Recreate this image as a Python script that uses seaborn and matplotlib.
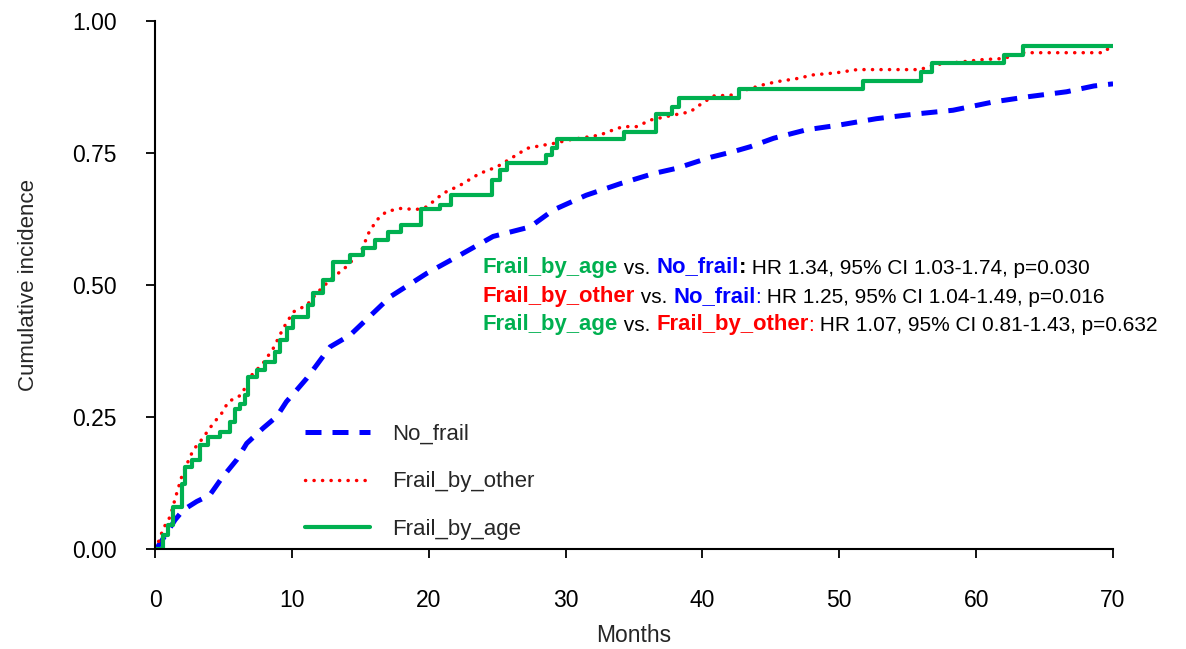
import numpy as np
import pandas as pd
import matplotlib
matplotlib.use("Agg")
import matplotlib.pyplot as plt
import seaborn as sns

# Cumulative incidence curves (months, incidence)
age_months = [0, 0.56, 0.97, 1.34, 1.95, 2.19, 2.68, 3.29, 3.9, 4.75, 5.48, 5.85, 6.2,
              6.58, 6.82, 7.43, 8.04, 8.77, 9.13, 9.62, 10.1, 11.2, 11.57, 12.3, 13.0,
              14.25, 15.2, 16.1, 17.0, 18.0, 19.4, 20.8, 21.6, 24.6, 25.2, 25.7, 28.6,
              29.0, 29.4, 34.3, 36.6, 37.8, 38.3, 42.7, 51.7, 56.0, 56.8, 62.0, 63.4, 70]
age_inc = [0, 0.027, 0.045, 0.08, 0.124, 0.156, 0.169, 0.197, 0.213, 0.222, 0.241, 0.266,
           0.275, 0.292, 0.326, 0.339, 0.355, 0.374, 0.396, 0.418, 0.44, 0.463, 0.484,
           0.51, 0.544, 0.557, 0.57, 0.585, 0.60, 0.614, 0.644, 0.651, 0.670, 0.699,
           0.718, 0.731, 0.746, 0.759, 0.776, 0.790, 0.823, 0.838, 0.855, 0.872, 0.886,
           0.904, 0.920, 0.936, 0.953, 0.953]

other_months = [0, 0.12, 0.61, 1.1, 1.58, 1.95, 2.3, 2.8, 3.29, 4.26, 4.87, 5.36, 6.33,
                6.94, 7.9, 8.64, 9.37, 10.1, 11.1, 11.8, 12.8, 14.0, 15.1, 15.6, 16.2,
                16.9, 17.9, 19.1, 19.85, 21.07, 22.3, 23.7, 25.0, 26.2, 27.2, 28.4, 29.1,
                30.3, 32.5, 33.5, 34.2, 35.2, 36.2, 37.9, 39.1, 39.8, 40.8, 42.3, 42.7,
                44.4, 45.4, 46.9, 48.1, 49.8, 51.3, 55.9, 56.9, 60.5, 62.0, 63.4, 69.3,
                69.8, 70]
other_inc = [0, 0.004, 0.039, 0.061, 0.105, 0.137, 0.159, 0.188, 0.203, 0.238, 0.257,
             0.279, 0.292, 0.326, 0.352, 0.380, 0.418, 0.449, 0.462, 0.484, 0.51, 0.535,
             0.566, 0.598, 0.623, 0.639, 0.645, 0.643, 0.648, 0.674, 0.689, 0.711, 0.724,
             0.743, 0.759, 0.765, 0.768, 0.775, 0.784, 0.794, 0.80, 0.80, 0.8125, 0.822,
             0.828, 0.841, 0.858, 0.860, 0.866, 0.879, 0.885, 0.891, 0.898, 0.902, 0.908,
             0.908, 0.917, 0.927, 0.929, 0.940, 0.940, 0.951, 0.951]

nofrail_months = [0, 0.12, 0.85, 1.46, 2.07, 3.05, 4.0, 4.87, 5.97, 6.7, 7.9, 8.9, 9.6,
                  10.35, 11.08, 11.8, 12.8, 14.25, 17.2, 19.85, 22.3, 24.7, 27.4, 29.1,
                  31.5, 34.0, 36.4, 38.1, 40.6, 42.3, 43.5, 45.2, 47.6, 50.0, 52.7, 55.6,
                  58.3, 61.3, 63.9, 66.6, 68.6, 70]
nofrail_inc = [0, 0.001, 0.03, 0.055, 0.074, 0.090, 0.102, 0.134, 0.169, 0.200, 0.229,
               0.251, 0.279, 0.301, 0.323, 0.348, 0.383, 0.405, 0.478, 0.522, 0.557, 0.592,
               0.610, 0.642, 0.670, 0.692, 0.711, 0.721, 0.742, 0.753, 0.762, 0.778, 0.794,
               0.803, 0.815, 0.824, 0.831, 0.847, 0.857, 0.866, 0.877, 0.881]

x_ticks = [0, 10, 20, 30, 40, 50, 60, 70]
y_ticks = [0, 0.25, 0.50, 0.75, 1.00]
y_tick_labels = ["0.00", "0.25", "0.50", "0.75", "1.00"]

GREEN = "#00B050"
RED = "#FF0000"
BLUE = "#0000FF"

# Hazard ratio text, one line per comparison: (text, colour, bold)
hr_lines = [
    [("Frail_by_age", GREEN, True), (" vs. ", "black", False), ("No_frail", BLUE, True),
     (":", "black", True), (" HR 1.34, 95% CI 1.03-1.74, p=0.030", "black", False)],
    [("Frail_by_other", RED, True), (" vs. ", "black", False), ("No_frail", BLUE, True),
     (":", BLUE, False), (" HR 1.25, 95% CI 1.04-1.49, p=0.016", "black", False)],
    [("Frail_by_age", GREEN, True), (" vs. ", "black", False), ("Frail_by_other", RED, True),
     (":", RED, False), (" HR 1.07, 95% CI 0.81-1.43, p=0.632", "black", False)],
]

sns.set_theme(style="ticks")
plt.rcParams["font.family"] = ["Liberation Sans", "DejaVu Sans"]

fig = plt.figure(figsize=(11.86, 6.49), dpi=100)
ax = fig.add_axes([0.1307, 0.1541, 0.8078, 0.8135])

df_no = pd.DataFrame({"month": nofrail_months, "inc": nofrail_inc})
df_other = pd.DataFrame({"month": other_months, "inc": other_inc})
df_age = pd.DataFrame({"month": age_months, "inc": age_inc})

sns.lineplot(data=df_no, x="month", y="inc", ax=ax, color=BLUE, lw=3.6,
             linestyle=(0, (3.2, 2.2)), estimator=None, label="No_frail")
sns.lineplot(data=df_other, x="month", y="inc", ax=ax, color=RED, lw=2.5,
             linestyle=(0, (0.05, 2.4)), dash_capstyle="round", estimator=None,
             label="Frail_by_other")
sns.lineplot(data=df_age, x="month", y="inc", ax=ax, color=GREEN, lw=3.0,
             drawstyle="steps-post", estimator=None, label="Frail_by_age")

ax.set_xlim(0, 70)
ax.set_ylim(0, 1)
ax.set_xticks(x_ticks)
ax.set_yticks(y_ticks)
ax.set_yticklabels(y_tick_labels)
ax.tick_params(axis="both", length=6.5, width=1.3, pad=21, labelsize=16.5, colors="black")
ax.tick_params(axis="x", pad=22)
for side in ["top", "right"]:
    ax.spines[side].set_visible(False)
for side in ["left", "bottom"]:
    ax.spines[side].set_linewidth(1.5)
    ax.spines[side].set_color("black")

ax.set_xlabel("Months", fontsize=16.5, labelpad=9)
ax.set_ylabel("Cumulative incidence", fontsize=16, labelpad=24)

ax.legend(loc="lower left", bbox_to_anchor=(0.157, 0.017), frameon=False, fontsize=16,
          handlelength=2.9, handletextpad=0.98, labelspacing=1.2, borderpad=0,
          borderaxespad=0)

line_y = [0.534, 0.479, 0.426]
for y, pieces in zip(line_y, hr_lines):
    prev = None
    for txt, col, bold in pieces:
        weight = "bold" if bold else "normal"
        size = 15.9 if bold else 15.0
        if prev is None:
            prev = ax.text(0.342, y, txt, transform=ax.transAxes, color=col,
                           fontweight=weight, fontsize=size, va="center", ha="left")
        else:
            prev = ax.annotate(txt, xy=(1, 0), xycoords=prev, color=col,
                               fontweight=weight, fontsize=size, va="bottom", ha="left")

fig.savefig("out.png", dpi=100)
